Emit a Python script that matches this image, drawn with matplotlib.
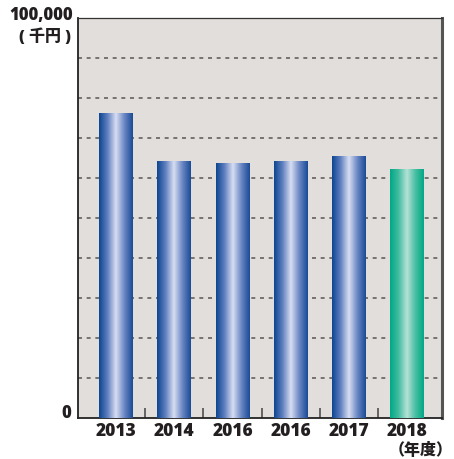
import matplotlib.pyplot as plt
import numpy as np
from matplotlib.colors import LinearSegmentedColormap

plt.rcParams['font.family'] = ['Open Sans', 'Noto Sans CJK JP', 'DejaVu Sans']

years = ['2013', '2014', '2016', '2016', '2017', '2018']
sales = [76250, 64250, 63750, 64250, 65500, 62250]
y_max = 100000
grid_step = 10000

blue = LinearSegmentedColormap.from_list(
    'blue', ['#0c4590', '#5f7fc0', '#d8def2', '#6a86c4', '#1a4a95'])
green = LinearSegmentedColormap.from_list(
    'green', ['#00a886', '#40bca0', '#b4e2d6', '#48bea2', '#00a886'])

fig = plt.figure(figsize=(4.54, 4.59), dpi=100)
ax = fig.add_axes([78 / 454, 1 - 418 / 459, 364 / 454, 400 / 459])
ax.set_facecolor('#e2dedb')

x = np.arange(len(years))
bars = ax.bar(x, sales, width=0.58, color='none', zorder=3)

grad = np.linspace(0, 1, 256).reshape(1, -1)
for i, b in enumerate(bars):
    cmap = green if i == len(years) - 1 else blue
    x0, w, h = b.get_x(), b.get_width(), b.get_height()
    im = ax.imshow(grad, cmap=cmap, aspect='auto', extent=(x0, x0 + w, 0, h),
                   zorder=3, interpolation='bilinear')
    im.set_clip_path(b)

for yv in range(grid_step, y_max, grid_step):
    ax.axhline(yv, color='#6e6a68', lw=1.3, ls=(0, (2.2, 2.6)), zorder=1)

ax.set_xlim(-0.655, 5.6)
ax.set_ylim(0, y_max)
ax.set_yticks([])
ax.set_xticks(x[:-1] + 0.5)
ax.set_xticklabels([])
ax.tick_params(axis='x', direction='in', length=7, width=1.1, color='#444444')

for side in ['left', 'bottom']:
    ax.spines[side].set_color('#222222')
    ax.spines[side].set_linewidth(1.3)
ax.spines['top'].set_color('#333333')
ax.spines['top'].set_linewidth(0.9)
ax.spines['right'].set_color('#555555')
ax.spines['right'].set_linewidth(2.2)

for xi, lbl in zip(x, years):
    ax.text(xi, -1300, lbl, ha='center', va='top', fontsize=12.5,
            fontweight='heavy', color='#231f20')

fig.text(73 / 454, 1 - 15 / 459, '100,000', ha='right', va='center',
         fontsize=12, fontweight='heavy', color='#231f20')
fig.text(71 / 454, 1 - 37 / 459, '( 千円 )', ha='right', va='center',
         fontsize=11.5, fontweight='heavy', color='#231f20')
fig.text(71 / 454, 1 - 413 / 459, '0', ha='right', va='center',
         fontsize=12, fontweight='heavy', color='#231f20')
fig.text(453 / 454, 1 - 451 / 459, '（年度）', ha='right', va='center',
         fontsize=11.5, fontweight='heavy', color='#231f20')

fig.savefig('out.png', dpi=100)
